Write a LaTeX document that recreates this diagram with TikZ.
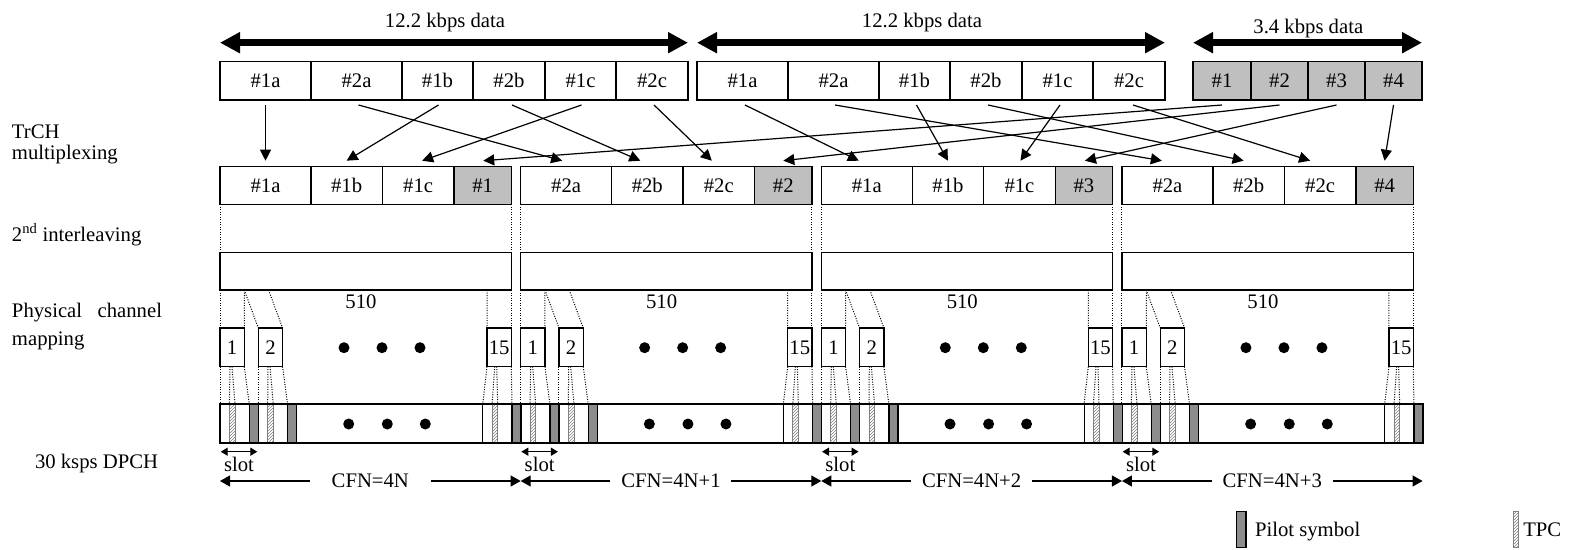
\documentclass[tikz,border=0pt]{standalone}
\usepackage{fontspec}
\setmainfont{Liberation Serif}
\usetikzlibrary{arrows.meta,patterns,calc}
\newcommand\myfs{\fontsize{20.7}{24}\selectfont}
\begin{document}
\begin{tikzpicture}[x=1pt,y=-1pt,
  every node/.style={font=\myfs, inner sep=0pt, outer sep=0pt},
  cell/.style={draw, line width=1.3pt, anchor=north west},
  gcell/.style={cell, fill=gray!50},
  dotln/.style={line width=1pt, dash pattern=on 1pt off 1.5pt},
  arr/.style={line width=1.2pt, -{Triangle[length=11pt,width=11pt]}},
  bigarr/.style={line width=7pt, {Triangle[length=20pt,width=20pt]}-{Triangle[length=20pt,width=20pt]}},
  slotarr/.style={line width=1.3pt, {Triangle[length=7pt,width=8pt]}-{Triangle[length=7pt,width=8pt]}},
  cfnarr/.style={line width=1.2pt, {Triangle[length=10pt,width=11pt]}-{Triangle[length=10pt,width=11pt]}},
  bigdot/.style={circle, fill, minimum size=11pt},
  pilot/.style={draw, line width=1.2pt, fill=black!45},
  tpc/.style={draw=gray, line width=0.6pt, pattern=north east lines, pattern color=gray},
]
\useasboundingbox (0,0) rectangle (1569,549);

% ---- top row
\node[cell, minimum width=91pt, minimum height=38.3pt] (ga1a) at (220,61.7) {\#1a};
\node[cell, minimum width=91pt, minimum height=38.3pt] (ga2a) at (311,61.7) {\#2a};
\node[cell, minimum width=71pt, minimum height=38.3pt] (ga1b) at (402,61.7) {\#1b};
\node[cell, minimum width=72pt, minimum height=38.3pt] (ga2b) at (473,61.7) {\#2b};
\node[cell, minimum width=71pt, minimum height=38.3pt] (ga1c) at (545,61.7) {\#1c};
\node[cell, minimum width=72pt, minimum height=38.3pt] (ga2c) at (616,61.7) {\#2c};

\node[cell, minimum width=91pt, minimum height=38.3pt] (gb1a) at (697,61.7) {\#1a};
\node[cell, minimum width=91pt, minimum height=38.3pt] (gb2a) at (788,61.7) {\#2a};
\node[cell, minimum width=71pt, minimum height=38.3pt] (gb1b) at (879,61.7) {\#1b};
\node[cell, minimum width=72pt, minimum height=38.3pt] (gb2b) at (950,61.7) {\#2b};
\node[cell, minimum width=71pt, minimum height=38.3pt] (gb1c) at (1022,61.7) {\#1c};
\node[cell, minimum width=72pt, minimum height=38.3pt] (gb2c) at (1093,61.7) {\#2c};

\node[gcell, minimum width=58pt, minimum height=38.3pt] (gc1) at (1193,61.7) {\#1};
\node[gcell, minimum width=57pt, minimum height=38.3pt] (gc2) at (1251,61.7) {\#2};
\node[gcell, minimum width=57pt, minimum height=38.3pt] (gc3) at (1308,61.7) {\#3};
\node[gcell, minimum width=57pt, minimum height=38.3pt] (gc4) at (1365,61.7) {\#4};

\draw[bigarr] ([yshift=19pt]ga1a.north west) -- ([yshift=19pt]ga2c.north east);
\draw[bigarr] ([yshift=19pt]gb1a.north west) -- ([yshift=19pt]gb2c.north east);
\draw[bigarr] ([yshift=19pt]gc1.north west) -- ([yshift=19pt]gc4.north east);
\node[anchor=base] (lab1) at (445,27.3) {12.2 kbps data};
\node[anchor=base] (lab2) at (922,27.3) {12.2 kbps data};
\node[anchor=base] (lab3) at (1308.3,33.5) {3.4 kbps data};

% ---- left labels
\node[anchor=base west] (l1) at (12,138.3) {TrCH};
\node[anchor=base west] (l2) at (12,159.3) {multiplexing};
\node[anchor=base west] (l3) at (12,241) {2\textsuperscript{nd} interleaving};
\node[anchor=base west] (l4) at (12,317.3) {\hbox to 150pt{Physical\hfill channel}};
\node[anchor=base west] (l5) at (12,345.7) {mapping};
\node[anchor=base west] (l6) at (35,468.3) {30 ksps DPCH};

% ---- frames
\foreach \i in {0,1,2,3} {
  \pgfmathsetmacro\F{220+300.65*\i}
  \pgfmathtruncatemacro\n{mod(\i,2)+1}
  \pgfmathtruncatemacro\g{\i+1}
  \node[cell, minimum width=91pt, minimum height=37.6pt] (m\i-a) at (\F,166.7) {\#\n a};
  \node[cell, minimum width=71.3pt, minimum height=37.6pt] (m\i-b) at (\F+91,166.7) {\#\n b};
  \node[cell, minimum width=71.7pt, minimum height=37.6pt] (m\i-c) at (\F+162.3,166.7) {\#\n c};
  \node[gcell, minimum width=57.3pt, minimum height=37.6pt] (m\i-g) at (\F+234,166.7) {\#\g};
  \node[cell, minimum width=291.3pt, minimum height=37.3pt] (il\i) at (\F,252.7) {};
  \draw[dotln] (m\i-a.south west) -- (il\i.north west);
  \draw[dotln] (m\i-g.south east) -- (il\i.north east);
  \node[cell, minimum width=24.3pt, minimum height=38.7pt] (s\i-1) at (\F,328) {1};
  \node[cell, minimum width=24.3pt, minimum height=38.7pt] (s\i-2) at (\F+38.3,328) {2};
  \node[cell, minimum width=24.3pt, minimum height=38.7pt] (s\i-15) at (\F+267,328) {15};
  \draw[dotln] (il\i.south west) -- (s\i-1.north west);
  \draw[dotln] ([xshift=24.3pt]il\i.south west) -- (s\i-1.north east);
  \draw[dotln] ([xshift=24.3pt]il\i.south west) -- (s\i-2.north west);
  \draw[dotln] ([xshift=48.6pt]il\i.south west) -- (s\i-2.north east);
  \draw[dotln] ([xshift=-24.3pt]il\i.south east) -- (s\i-15.north west);
  \draw[dotln] (il\i.south east) -- (s\i-15.north east);
  \node (n510-\i) at (\F+141,301.7) {510};
  \node[bigdot] (da\i-1) at (\F+124,347.7) {};
  \node[bigdot] (da\i-2) at (\F+162,347.7) {};
  \node[bigdot] (da\i-3) at (\F+200,347.7) {};
  % bottom row
  \coordinate (c\i-1) at (\F,404.3);
  \coordinate (c\i-2) at (\F+38.3,404.3);
  \coordinate (c\i-15) at (\F+262.7,404.3);
  \foreach \k/\o in {1/0, 2/38.3, 15/262.7} {
    \node[tpc, minimum width=5.6pt, minimum height=39pt, anchor=north west] (q\i-\k) at (\F+\o+9.4,404.3) {};
    \node[pilot, minimum width=9pt, minimum height=39pt, anchor=north west] (p\i-\k) at (\F+\o+29.3,404.3) {};
  }
  \draw[line width=0.8pt] (c\i-15) -- ++(0,39);
  \draw[dotln] (s\i-1.south west) -- (c\i-1);
  \draw[dotln] (s\i-1.south east) -- (p\i-1.north west);
  \draw[dotln] ([xshift=10pt]s\i-1.south west) -- (q\i-1.north west);
  \draw[dotln] ([xshift=12pt]s\i-1.south west) -- (q\i-1.north east);
  \draw[dotln] (s\i-2.south west) -- (c\i-2);
  \draw[dotln] (s\i-2.south east) -- (p\i-2.north west);
  \draw[dotln] ([xshift=9.7pt]s\i-2.south west) -- (q\i-2.north west);
  \draw[dotln] ([xshift=11.7pt]s\i-2.south west) -- (q\i-2.north east);
  \draw[dotln] (s\i-15.south west) -- (c\i-15);
  \draw[dotln] (s\i-15.south east) -- (p\i-15.north west);
  \draw[dotln] ([xshift=7.7pt]s\i-15.south west) -- (q\i-15.north west);
  \draw[dotln] ([xshift=9.7pt]s\i-15.south west) -- (q\i-15.north east);
  \node[bigdot] (db\i-1) at (\F+128.7,424) {};
  \node[bigdot] (db\i-2) at (\F+167.3,424) {};
  \node[bigdot] (db\i-3) at (\F+205.3,424) {};
  % slot and CFN arrows
  \coordinate (sla\i) at (\F+0.7,451.7);
  \coordinate (slb\i) at (\F+37.3,451.7);
  \draw[slotarr] (sla\i) -- (slb\i);
  \node[anchor=base] (slt\i) at (\F+19,471.7) {slot};
  \coordinate (cfa\i) at (\F,481);
  \coordinate (cfb\i) at (\F+300.65,481);
  \ifnum\i=0 \def\cfn{CFN=4N}\else\edef\cfn{CFN=4N+\i}\fi
  \draw[cfnarr] (cfa\i) -- (cfb\i) node[midway, fill=white, minimum width=121pt, minimum height=16pt] (cfn\i) {\cfn};
}
\node[draw, line width=2pt, minimum width=1202.6pt, minimum height=39pt, anchor=north west] (dpch) at (220,404.3) {};

% ---- multiplexing arrows
\foreach \a/\b/\sa/\sb in {ga1a/m0-a/0/0, ga2a/m1-a/2/-4, ga1b/m0-b/1/0, ga2b/m1-b/3/-7, ga1c/m0-c/1/4, ga2c/m1-c/2/-7,
    gb1a/m2-a/2.5/-8, gb2a/m3-a/1.5/-5.6, gb1b/m2-b/2/0, gb2b/m3-b/2/-5, gb1c/m2-c/2.5/1, gb2c/m3-c/4/-10,
    gc1/m0-g/0/0.6, gc2/m1-g/0/0, gc3/m2-g/0/1, gc4/m3-g/0/0}
  \draw[arr] ([xshift=\sa pt, yshift=-5pt]\a.south) -- ([xshift=\sb pt, yshift=6pt]\b.north);

% ---- legend
\node[pilot, minimum width=9.3pt, minimum height=36pt, anchor=north west] (legp) at (1236.7,511.7) {};
\node[anchor=base west] (legpt) at (1255,536.7) {Pilot symbol};
\node[tpc, minimum width=5pt, minimum height=36pt, anchor=north west] (legt) at (1513.3,511.7) {};
\node[anchor=base west] (legtt) at (1523.3,536.7) {TPC};
\end{tikzpicture}
\end{document}
